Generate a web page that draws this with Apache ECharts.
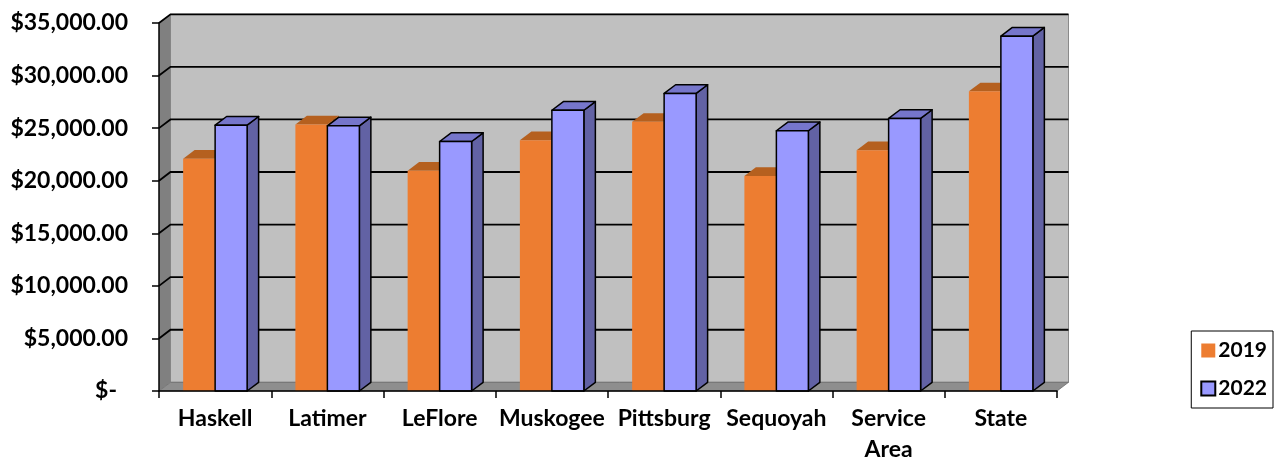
<!DOCTYPE html>
<html>
<head>
<meta charset="utf-8">
<script src="https://cdn.jsdelivr.net/npm/echarts@6/dist/echarts.min.js"></script>
<style>
  html, body { margin: 0; padding: 0; background: #fff; }
  #main { width: 1279px; height: 460px; }
</style>
</head>
<body>
<div id="main"></div>
<script>
// chart data
var categories = ["Haskell", "Latimer", "LeFlore", "Muskogee", "Pittsburg", "Sequoyah", "Service\nArea", "State"];
var v2019 = [22100, 25350, 20950, 23850, 25600, 20450, 22900, 28500];
var v2022 = [25280, 25220, 23730, 26700, 28300, 24750, 25920, 33750];
var yMin = 0, yMax = 35000, yStep = 5000;

// depth offset of the fake 3d look
var DX = 11.5, DY = 8.7;
var FONT = "Lato";

function money(v) {
  if (v === 0) return "{z|$-}";
  return "$" + v.toLocaleString("en-US", { minimumFractionDigits: 2, maximumFractionDigits: 2 });
}

function wallItem(params, api) {
  var cs = params.coordSys;
  var x0 = cs.x, x1 = cs.x + cs.width, yb = cs.y + cs.height;
  var kids = [];
  // back wall
  kids.push({ type: "rect", shape: { x: x0 + DX, y: cs.y - DY, width: cs.width, height: cs.height },
    style: { fill: "#C0C0C0", stroke: "#8a8a8a", lineWidth: 1 } });
  // left side wall
  kids.push({ type: "polygon", shape: { points: [[x0, cs.y], [x0 + DX, cs.y - DY], [x0 + DX, yb - DY], [x0, yb]] },
    style: { fill: "#808080" } });
  // floor
  kids.push({ type: "polygon", shape: { points: [[x0, yb], [x1, yb], [x1 + DX, yb - DY], [x0 + DX, yb - DY]] },
    style: { fill: "#8E8E8E", stroke: "#6a6a6a", lineWidth: 0.8 } });
  for (var v = yMin + yStep; v <= yMax; v += yStep) {
    var y = api.coord([0, v])[1];
    kids.push({ type: "polyline", shape: { points: [[x0, y], [x0 + DX, y - DY], [x1 + DX, y - DY]] },
      style: { stroke: "#000", lineWidth: 1.8, fill: null } });
  }
  return { type: "group", children: kids };
}

function barRenderer(side, front, topC, sideC, stroke) {
  return function (params, api) {
    var i = api.value(0);
    var top = api.coord([i, api.value(1)]);
    var base = api.coord([i, 0]);
    var bw = api.size([1, 0])[0] * 0.285;
    var left = side === 0 ? top[0] - bw : top[0];
    var t = top[1], b = base[1];
    var st = stroke ? { stroke: "#000", lineWidth: 1.5, lineJoin: "round" } : {};
    return {
      type: "group",
      children: [
        { type: "polygon", shape: { points: [[left + bw, t], [left + bw + DX, t - DY], [left + bw + DX, b - DY], [left + bw, b]] },
          style: Object.assign({ fill: sideC }, st) },
        { type: "polygon", shape: { points: [[left, t], [left + bw, t], [left + bw + DX, t - DY], [left + DX, t - DY]] },
          style: Object.assign({ fill: topC }, st) },
        { type: "rect", shape: { x: left, y: t, width: bw, height: b - t },
          style: Object.assign({ fill: front }, st) }
      ]
    };
  };
}

var chart = echarts.init(document.getElementById("main"));
var option = {
  animation: false,
  grid: { left: 159, right: 222, top: 23, bottom: 69, outerBoundsMode: "none", containLabel: false },
  legend: {
    orient: "vertical",
    right: 6,
    top: 331,
    padding: [9, 6, 9, 9],
    itemWidth: 14,
    itemHeight: 14,
    itemGap: 17,
    borderColor: "#000",
    borderWidth: 1,
    icon: "rect",
    textStyle: { fontFamily: FONT, fontWeight: "bold", fontSize: 21, color: "#000", padding: [0, 0, 0, -2] },
    data: [
      { name: "2019", itemStyle: { color: "#ED7D31", borderWidth: 0 } },
      { name: "2022", itemStyle: { color: "#9999FF", borderColor: "#000", borderWidth: 2 } }
    ]
  },
  xAxis: {
    type: "category",
    data: categories,
    z: 5,
    axisLine: { lineStyle: { color: "#000", width: 1.5 } },
    axisTick: { show: true, length: 7, lineStyle: { color: "#000", width: 1.5 } },
    axisLabel: { fontFamily: FONT, fontWeight: "bold", fontSize: 23, color: "#000", margin: 12, lineHeight: 31, interval: 0 }
  },
  yAxis: {
    type: "value",
    min: yMin,
    max: yMax,
    interval: yStep,
    z: 5,
    splitLine: { show: false },
    axisLine: { show: true, lineStyle: { color: "#000", width: 1.5 } },
    axisTick: { show: true, length: 7, lineStyle: { color: "#000", width: 1.5 } },
    axisLabel: {
      fontFamily: FONT, fontWeight: "bold", fontSize: 23, color: "#000", margin: 31,
      formatter: money,
      rich: { z: { fontFamily: FONT, fontWeight: "bold", fontSize: 23, color: "#000", padding: [0, 11, 0, 0] } }
    }
  },
  series: [
    { type: "custom", name: "wall", z: 1, silent: true, renderItem: wallItem, data: [[0, yMax]] },
    {
      type: "custom", name: "2019", z: 2,
      itemStyle: { color: "#ED7D31" },
      renderItem: barRenderer(0, "#ED7D31", "#B5601F", "#B5601F", false),
      encode: { x: 0, y: 1 },
      data: v2019.map(function (v, i) { return [i, v]; })
    },
    {
      type: "custom", name: "2022", z: 3,
      itemStyle: { color: "#9999FF" },
      renderItem: barRenderer(1, "#9999FF", "#7676CB", "#6262A4", true),
      encode: { x: 0, y: 1 },
      data: v2022.map(function (v, i) { return [i, v]; })
    }
  ]
};
chart.setOption(option);
</script>
</body>
</html>
